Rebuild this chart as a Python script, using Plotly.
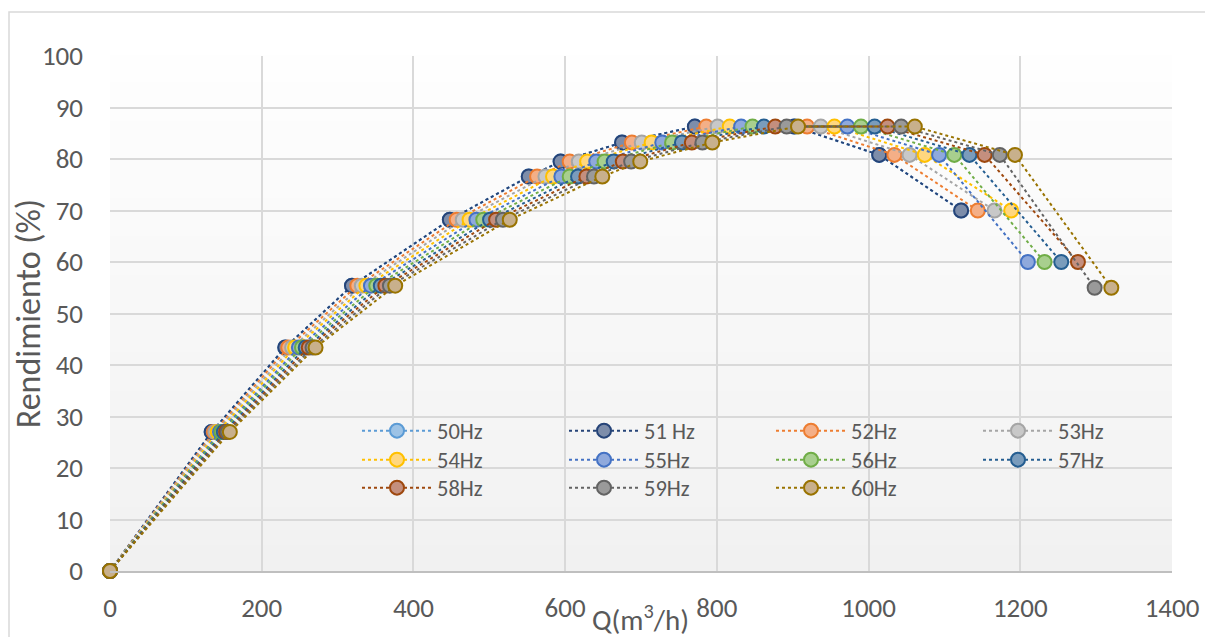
import plotly.graph_objects as go

# ---------------- data ----------------
series_names = ["50Hz", "51 Hz", "52Hz", "53Hz", "54Hz", "55Hz",
                "56Hz", "57Hz", "58Hz", "59Hz", "60Hz"]

q_50 = [0, 134, 231, 319, 448, 552, 594, 675, 771, 902, 1014, 1122]
q_51 = [0, 134, 231, 319, 448, 552, 594, 675, 771, 902, 1014, 1122]
q_52 = [0, 137, 235, 326, 457, 563, 606, 688, 786, 919, 1034, 1144]
q_53 = [0, 139, 240, 332, 465, 574, 618, 701, 801, 937, 1054, 1166]
q_54 = [0, 142, 244, 338, 474, 584, 629, 714, 817, 955, 1074, 1188]
q_55 = [0, 145, 249, 344, 483, 595, 641, 728, 832, 972, 1093, 1210]
q_56 = [0, 147, 253, 351, 492, 606, 652, 741, 847, 990, 1113, 1232]
q_57 = [0, 150, 258, 357, 501, 617, 664, 754, 862, 1008, 1133, 1254]
q_58 = [0, 153, 262, 363, 509, 628, 676, 767, 877, 1025, 1153, 1276]
q_59 = [0, 155, 267, 369, 518, 638, 687, 781, 892, 1043, 1173, 1298]
q_60 = [0, 158, 271, 376, 527, 649, 699, 794, 907, 1061, 1193, 1320]

eff_common = [0, 27, 43.4, 55.4, 68.2, 76.6, 79.5, 83.2, 86.3, 86.3, 80.8]
eff_last = [70, 70, 70, 70, 70, 60, 60, 60, 60, 55, 55]

x_ticks = [0, 200, 400, 600, 800, 1000, 1200, 1400]
y_ticks = [0, 10, 20, 30, 40, 50, 60, 70, 80, 90, 100]

q_series = [q_50, q_51, q_52, q_53, q_54, q_55, q_56, q_57, q_58, q_59, q_60]

# ---------------- styles ----------------
line_colors = ["#5B9BD5", "#264478", "#ED7D31", "#A5A5A5", "#FFC000", "#4472C4",
               "#70AD47", "#255E91", "#9E480E", "#636363", "#997300"]
fill_colors = ["#9DC3E6", "#7D8DAA", "#F4AF87", "#C8C8C8", "#FFD77F", "#8FA9DC",
               "#A8CF8E", "#7A9CBC", "#C48F7E", "#9A9A9A", "#C8B08C"]

FONT = "Calibri, Carlito, Lato, sans-serif"
TXT = "#595959"

# plot area in screen pixels (page has an 8px body margin)
OFF = 8
PL, PT, PR, PB = 110, 56, 1172, 571
PW, PH = PR - PL, PB - PT


def px(sx):
    return (sx - PL) / PW


def py(sy):
    return (PB - sy) / PH


fig = go.Figure()

legend_of = ["legend"] * 4 + ["legend2"] * 4 + ["legend3"] * 3

for i, name in enumerate(series_names):
    y_vals = eff_common + [eff_last[i]]
    fig.add_trace(go.Scatter(
        x=q_series[i], y=y_vals, name=name, mode="lines+markers",
        line=dict(color=line_colors[i], width=2, dash="dot"),
        marker=dict(size=14, color=fill_colors[i],
                    line=dict(color=line_colors[i], width=2)),
        cliponaxis=False, legend=legend_of[i],
    ))

# background gradient strips in the plot area
n_strips = 40
shapes = []
for k in range(n_strips):
    t = k / (n_strips - 1)
    c = int(round(241 + (254 - 241) * t))
    shapes.append(dict(type="rect", xref="x domain", yref="y domain",
                       x0=0, x1=1, y0=k / n_strips, y1=(k + 1) / n_strips + 0.002,
                       fillcolor=f"rgb({c},{c},{c})", line=dict(width=0),
                       layer="below"))
# outer chart border
shapes.append(dict(type="rect", xref="paper", yref="paper",
                   x0=px(OFF + 1), x1=px(1209),
                   y0=py(660), y1=py(12),
                   line=dict(color="#D9D9D9", width=1.5), fillcolor="rgba(0,0,0,0)",
                   layer="below"))

leg_common = dict(orientation="h", xanchor="left", yanchor="middle",
                  bgcolor="rgba(0,0,0,0)", entrywidth=122, entrywidthmode="pixels",
                  itemwidth=70,
                  font=dict(family=FONT, size=22.5, color=TXT), itemclick=False)
leg_x = px(357)

fig.update_layout(
    width=1213, height=637,
    margin=dict(l=PL - OFF, r=1213 - (PR - OFF), t=PT - OFF, b=637 - (PB - OFF),
                autoexpand=False),
    paper_bgcolor="white", plot_bgcolor="rgba(0,0,0,0)",
    font=dict(family=FONT, color=TXT),
    shapes=shapes,
    legend=dict(x=leg_x, y=py(431), **leg_common),
    legend2=dict(x=leg_x, y=py(460), **leg_common),
    legend3=dict(x=leg_x, y=py(488), **leg_common),
    xaxis=dict(range=[0, 1400], tickvals=x_ticks, showgrid=True,
               gridcolor="#D9D9D9", gridwidth=1.5, zeroline=False,
               showline=True, linecolor="#BFBFBF", linewidth=1.5,
               ticks="", tickfont=dict(family=FONT, size=27, color=TXT),
               ticklabelstandoff=12, fixedrange=True, automargin=False),
    yaxis=dict(range=[0, 100], tickvals=y_ticks, showgrid=True,
               gridcolor="#D9D9D9", gridwidth=1.5, zeroline=False,
               showline=False, ticks="",
               tickfont=dict(family=FONT, size=27, color=TXT),
               ticklabelstandoff=26, fixedrange=True, automargin=False,
               title=dict(text="Rendimiento (%)",
                          font=dict(family=FONT, size=34, color=TXT),
                          standoff=12)),
    annotations=[dict(text="Q(m<sup>3</sup>/h)", xref="paper", yref="paper",
                      x=px(640), y=py(618),
                      xanchor="center", yanchor="middle", showarrow=False,
                      font=dict(family=FONT, size=29, color=TXT))],
)

fig.write_html("out.html")
